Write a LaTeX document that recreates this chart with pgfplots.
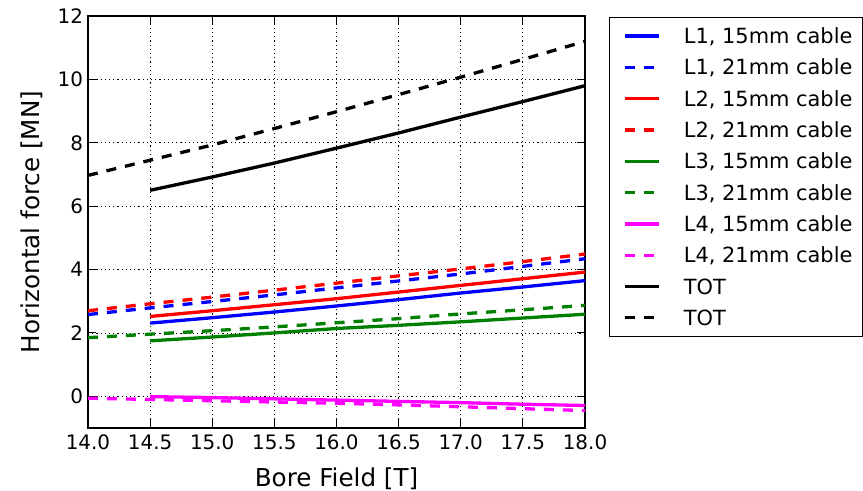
\documentclass[border=0pt]{standalone}
\usepackage{pgfplots}
\pgfplotsset{compat=1.18}
\usepackage{fontspec}
\setmainfont{DejaVu Sans}

\definecolor{cblue}{RGB}{0,0,255}
\definecolor{cred}{RGB}{255,0,0}
\definecolor{cgreen}{RGB}{0,128,0}
\definecolor{cmag}{RGB}{255,0,255}

\begin{document}
\begin{tikzpicture}
\begin{axis}[
  scale only axis,
  width=497bp, height=412bp,
  xmin=14, xmax=18, ymin=-1, ymax=12,
  xtick={14,14.5,...,18},
  ytick={0,2,...,12},
  /pgf/number format/assume math mode=true,
  xticklabel style={yshift=-3bp, /pgf/number format/.cd, fixed, fixed zerofill, precision=1},
  yticklabel style={xshift=-1.5bp, /pgf/number format/.cd, fixed, precision=0},
  tick label style={font=\fontsize{20}{24}\selectfont},
  label style={font=\fontsize{24.7}{29}\selectfont},
  xlabel={Bore Field [T]},
  ylabel={Horizontal force [MN]},
  xlabel style={at={([yshift=-58bp]axis description cs:0.5,0)}, anchor=base},
  ylabel style={at={([xshift=-48bp]axis description cs:0,0.5)}, anchor=base},
  axis line style={line width=1.6bp},
  major tick length=8bp,
  tick style={line width=1bp, black},
  grid=major,
  major grid style={black, line width=0.8bp, dash pattern=on 1.2bp off 3bp},
  every axis plot/.append style={line width=3.3bp},
  legend cell align=left,
  legend image code/.code={\path (0bp,0bp); \draw[#1] (4bp,0bp) -- (38bp,0bp);},
  legend style={
    at={(1,1)}, anchor=north west, xshift=24bp, yshift=-1bp,
    font=\fontsize{21}{25}\selectfont,
    draw=black, line width=1.2bp,
    inner xsep=10bp, inner ysep=8bp,
    row sep=10.3bp,
    nodes={inner sep=0pt, text height=18bp, text depth=3bp},
    /tikz/every odd column/.append style={column sep=23bp},
  },
  dashed/.style={dash pattern=on 10bp off 9bp},
]
% L1
\addplot[cblue] coordinates {(14.5,2.31) (15,2.48) (15.5,2.66) (16,2.85) (16.5,3.05) (17,3.26) (17.5,3.45) (18,3.65)};
\addlegendentry{L1, 15mm cable}
\addplot[cblue, dashed] coordinates {(14,2.58) (14.5,2.79) (15,2.99) (15.5,3.20) (16,3.42) (16.5,3.64) (17,3.86) (17.5,4.10) (18,4.34)};
\addlegendentry{L1, 21mm cable}
% L2
\addplot[cred] coordinates {(14.5,2.52) (15,2.70) (15.5,2.89) (16,3.08) (16.5,3.29) (17,3.50) (17.5,3.71) (18,3.92)};
\addlegendentry{L2, 15mm cable}
\addplot[cred, dashed] coordinates {(14,2.70) (14.5,2.92) (15,3.13) (15.5,3.35) (16,3.57) (16.5,3.80) (17,4.02) (17.5,4.25) (18,4.49)};
\addlegendentry{L2, 21mm cable}
% L3
\addplot[cgreen] coordinates {(14.5,1.75) (15,1.87) (15.5,2.00) (16,2.14) (16.5,2.24) (17,2.35) (17.5,2.47) (18,2.59)};
\addlegendentry{L3, 15mm cable}
\addplot[cgreen, dashed] coordinates {(14,1.85) (14.5,1.96) (15,2.07) (15.5,2.19) (16,2.32) (16.5,2.45) (17,2.60) (17.5,2.73) (18,2.87)};
\addlegendentry{L3, 21mm cable}
% L4
\addplot[cmag] coordinates {(14.5,-0.01) (15,-0.04) (15.5,-0.08) (16,-0.12) (16.5,-0.16) (17,-0.20) (17.5,-0.25) (18,-0.29)};
\addlegendentry{L4, 15mm cable}
\addplot[cmag, dashed] coordinates {(14,-0.06) (14.5,-0.10) (15,-0.14) (15.5,-0.18) (16,-0.22) (16.5,-0.27) (17,-0.33) (17.5,-0.39) (18,-0.45)};
\addlegendentry{L4, 21mm cable}
% totals
\addplot[black] coordinates {(14.5,6.50) (15,6.92) (15.5,7.36) (16,7.83) (16.5,8.31) (17,8.81) (17.5,9.30) (18,9.80)};
\addlegendentry{TOT}
\addplot[black, dashed] coordinates {(14,6.97) (14.5,7.45) (15,7.93) (15.5,8.45) (16,8.98) (16.5,9.52) (17,10.07) (17.5,10.63) (18,11.20)};
\addlegendentry{TOT}
\end{axis}
% fixed page frame around the axis box
\pgfresetboundingbox
\path (current axis.south west) ++(-88bp,-63bp) rectangle ++(863bp,491bp);
\end{tikzpicture}
\end{document}
